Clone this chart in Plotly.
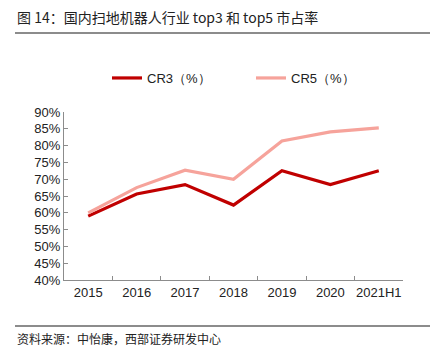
import plotly.graph_objects as go

categories = ["2015", "2016", "2017", "2018", "2019", "2020", "2021H1"]
cr3 = [59.0, 65.6, 68.4, 62.3, 72.5, 68.4, 72.5]
cr5 = [60.0, 67.5, 72.7, 70.0, 81.4, 84.1, 85.3]
series_names = ["CR3（%）", "CR5（%）"]
y_ticks = [40, 45, 50, 55, 60, 65, 70, 75, 80, 85, 90]
y_tick_labels = [f"{v}%" for v in y_ticks]
title_text = "图 14：国内扫地机器人行业 top3 和 top5 市占率"
source_text = "资料来源：中怡康，西部证券研发中心"

# page body has an 8px default margin; work in screen pixels and offset
OFF = 8
W, H = 448 - OFF, 363 - OFF
L, R, T, B = 64 - OFF, 403 - OFF, 112 - OFF, 280 - OFF

def px_x(p):
    return (p - OFF - L) / (R - L)

def px_y(p):
    return (B - (p - OFF)) / (B - T)

fig = go.Figure()
fig.add_trace(go.Scatter(x=categories, y=cr3, mode="lines", name=series_names[0],
                         line=dict(color="#C00000", width=3.2)))
fig.add_trace(go.Scatter(x=categories, y=cr5, mode="lines", name=series_names[1],
                         line=dict(color="#F6A39B", width=3.2)))

font_main = "Liberation Sans, Arial, sans-serif"
font_cjk = "Noto Sans CJK SC, sans-serif"

fig.update_layout(
    width=W, height=H,
    margin=dict(l=L, r=W - R, t=T, b=H - B, pad=0, autoexpand=False),
    paper_bgcolor="white", plot_bgcolor="white",
    showlegend=True,
    legend=dict(orientation="h", x=px_x(107), y=px_y(78), xanchor="left", yanchor="middle",
                font=dict(family=font_main, size=13, color="#222"),
                entrywidth=99, entrywidthmode="pixels", bgcolor="rgba(0,0,0,0)"),
    xaxis=dict(type="category", range=[-0.5, 6.5], showgrid=False, showline=True,
               linecolor="#8c8c8c", linewidth=1, ticks="inside", tickson="boundaries",
               ticklen=4, tickcolor="#8c8c8c", tickangle=0, automargin=False,
               tickfont=dict(family=font_main, size=13, color="#222")),
    yaxis=dict(range=[40, 90], tickvals=y_ticks, ticktext=y_tick_labels, showgrid=False,
               zeroline=False, showline=True, linecolor="#8c8c8c", linewidth=1,
               ticks="inside", ticklen=4, tickcolor="#8c8c8c", automargin=False,
               tickfont=dict(family=font_main, size=13, color="#222")),
    shapes=[
        dict(type="line", xref="paper", yref="paper", x0=px_x(15), x1=px_x(430),
             y0=px_y(33), y1=px_y(33), line=dict(color="#8c8c8c", width=2)),
        dict(type="line", xref="paper", yref="paper", x0=px_x(15), x1=px_x(430),
             y0=px_y(326), y1=px_y(326), line=dict(color="#8c8c8c", width=2)),
    ],
    annotations=[
        dict(text=title_text, xref="paper", yref="paper", x=px_x(15), y=px_y(17),
             xanchor="left", yanchor="middle", showarrow=False,
             font=dict(family=font_cjk, size=14, color="#222")),
        dict(text=source_text, xref="paper", yref="paper", x=px_x(15), y=px_y(338),
             xanchor="left", yanchor="middle", showarrow=False,
             font=dict(family=font_cjk, size=12, color="#222")),
    ],
)

fig.write_html("out.html")
